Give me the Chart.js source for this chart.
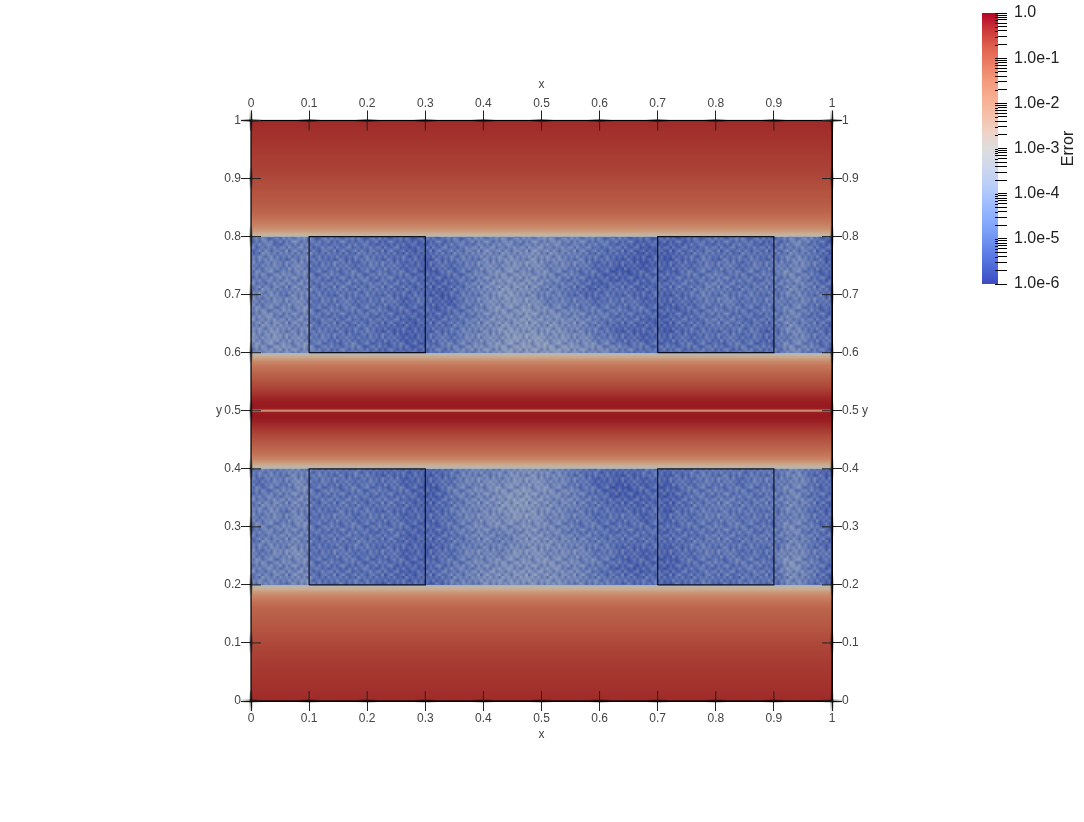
<!DOCTYPE html>
<html>
<head>
<meta charset="utf-8">
<title>Error</title>
<script src="https://cdn.jsdelivr.net/npm/chart.js@4"></script>
<style>
html, body { margin: 0; padding: 0; background: #fff; }
canvas { position: absolute; }
#field { left: 0; top: 0; }
#bar { left: 982px; top: 0; }
</style>
</head>
<body>
<canvas id="field" width="1084" height="822"></canvas>
<canvas id="bar" width="102" height="300"></canvas>
<script>
// axis ticks of the square
var axisMin = 0;
var axisMax = 1;
var axisStep = 0.1;

// the four boxes drawn on the field
var boxXRanges = [[0.1, 0.3], [0.7, 0.9], [0.1, 0.3], [0.7, 0.9]];
var boxYRanges = [[0.6, 0.8], [0.6, 0.8], [0.2, 0.4], [0.2, 0.4]];

// log10(error) read down the picture, the red bands only
var profileY = [1, 0.97, 0.94, 0.91, 0.88, 0.86, 0.84, 0.83, 0.82, 0.815, 0.81, 0.805, 0.802, 0.8,
	0.6, 0.597, 0.592, 0.585, 0.578, 0.565, 0.555, 0.545, 0.535, 0.525, 0.517, 0.508, 0.503, 0.5015, 0.5, 0.4985, 0.497, 0.492, 0.483, 0.475, 0.465, 0.455, 0.445, 0.435, 0.422, 0.415, 0.408, 0.403, 0.4,
	0.2, 0.197, 0.192, 0.187, 0.18, 0.17, 0.16, 0.14, 0.12, 0.09, 0.06, 0.03, 0];
var profileLog = [-0.27, -0.36, -0.48, -0.6, -0.78, -0.9, -1.14, -1.32, -1.56, -1.74, -1.98, -2.4, -2.76, -3.18,
	-3.2, -2.85, -2.2, -1.7, -1.4, -1.1, -0.9, -0.7, -0.5, -0.28, -0.1, -0.03, -0.1, -1.2, -2.0, -1.2, -0.1, -0.03, -0.1, -0.28, -0.5, -0.7, -0.9, -1.1, -1.4, -1.7, -2.2, -2.85, -3.2,
	-3.2, -2.8, -2.3, -1.95, -1.6, -1.3, -1.1, -0.95, -0.8, -0.6, -0.46, -0.36, -0.27];

// error level 0 (dark) to 9 (light) per cell, 58 columns, top row first
var upperZone = [
	"453465 343433323222 33445556556665554433222 222333343323 46532",
	"364546 343344333222 34455666667665544332212 123343334333 55432",
	"555456 334334433321 33445667677665543322112 123343443434 56541",
	"465565 344343443321 23345667766655433211122 223444434444 66432",
	"546656 343444343332 22345677777654432222223 234345444344 56532",
	"565466 434434433322 12345678776554322333223 233454434443 66443",
	"656566 343443343233 11345678776554433333322 223444544344 55543",
	"565657 344434432322 22345677787665544443332 222344434343 56432",
	"676566 343343333222 23445677787776655433322 133344443334 65433",
	"667657 344334322212 33456678787776654322222 123334343423 66442",
	"777666 443343332212 34456678888877665432222 223333343323 56533",
	"667767 443443323222 44566778888888776654433 333343334333 66543"
];
var lowerZone = [
	"454565 444343323222 23456566777665433222233 233444443444 56432",
	"345466 343344333221 23556677777765432211222 133444434443 66532",
	"445566 344343433321 13556677887766543211122 123444444344 56433",
	"566566 343443343321 23456678887766544322223 123444544444 66532",
	"556465 334434333222 23556677887765543333223 133445444343 65432",
	"565566 344343433322 23456677777665444333323 233444444433 66532",
	"455656 343443334222 23456656677665444333333 233344444344 66443",
	"465565 334344333222 23445655677766554433333 233444434443 56532",
	"546676 334343333221 23456566777766654432222 223444443334 76543",
	"565666 343433333222 33456667777776655432222 123344344434 77543",
	"556566 343334332222 34556677777776654322123 123343434433 77542",
	"565567 334343323223 24556777787776655443333 233343334343 66532"
];
// hand typed speckle laid over the zones, not a measurement: the grain is too fine to read cell by cell
var speckle = [
	"3728150946271836",
	"8162739405817263",
	"2950618372946150",
	"6381924057183729",
	"1749360825294618",
	"9273815064738152",
	"4058297136920473",
	"7316482950168294",
	"2894061573824906",
	"5160739248615037",
	"8427913605392781",
	"0693258174067429"
];

// colour bar
var barRange = [0.000001, 1];
var barTicks = [1, 0.1, 0.01, 0.001, 0.0001, 0.00001, 0.000001];
var barLabels = ["1.0", "1.0e-1", "1.0e-2", "1.0e-3", "1.0e-4", "1.0e-5", "1.0e-6"];
var barTitle = "Error";

// colours: position on the log range, then rgb
var barStops = [[0, 59, 76, 192], [0.0625, 77, 104, 215], [0.125, 98, 131, 234], [0.1875, 119, 157, 247], [0.25, 141, 176, 254], [0.3125, 165, 193, 254], [0.375, 190, 208, 247], [0.4375, 208, 216, 234], [0.5, 221, 221, 221], [0.5625, 238, 210, 198], [0.625, 245, 192, 168], [0.6875, 247, 174, 145], [0.75, 244, 154, 123], [0.8125, 235, 126, 100], [0.875, 222, 96, 77], [0.9375, 203, 56, 57], [1, 180, 4, 38]];
var fieldStops = [[0, 50, 68, 155], [0.1, 65, 88, 170], [0.2, 88, 112, 180], [0.3, 112, 134, 186], [0.42, 142, 160, 190], [0.5, 185, 185, 180], [0.62, 205, 170, 140], [0.75, 200, 125, 95], [0.875, 178, 80, 62], [1, 150, 22, 30]];

var textColor = "#444444";
var fontName = "'Liberation Sans', Arial, sans-serif";

var rampColor = function(stops, t){
	t = Math.max(0, Math.min(1, t));
	for(var i = 1; i < stops.length; i++){
		if(t <= stops[i][0]){
			var a = stops[i-1], b = stops[i];
			var k = (t-a[0])/(b[0]-a[0]);
			return "rgb(" + Math.round(a[1]+(b[1]-a[1])*k) + "," + Math.round(a[2]+(b[2]-a[2])*k) + "," + Math.round(a[3]+(b[3]-a[3])*k) + ")";
		}
	}
	return "rgb(" + stops[stops.length-1].slice(1).join(",") + ")";
}
var logToPos = function(v){
	return (v+6)/6;
}

var profilePoints = profileY.map(function(y, i){
	return {x: 0.5, y: y, v: profileLog[i]};
});
var zoneCells = function(rows, yTop, yBottom){
	var cells = [];
	rows.forEach(function(row, r){
		row.replace(/ /g, "").split("").forEach(function(level, c){
			cells.push({x: c, y: yTop-(yTop-yBottom)*(r+0.5)/rows.length, r: r, c: c, v: -5.6+0.24*Number(level)});
		});
	});
	return cells;
}

var boxDatasets = boxXRanges.map(function(xr, i){
	var yr = boxYRanges[i];
	return {
		label: "box",
		showLine: true,
		borderColor: "rgba(8,8,20,0.92)",
		borderWidth: 1.2,
		pointRadius: 0,
		data: [{x: xr[0], y: yr[0]}, {x: xr[1], y: yr[0]}, {x: xr[1], y: yr[1]}, {x: xr[0], y: yr[1]}, {x: xr[0], y: yr[0]}]
	};
});

var speckleTile = function(){
	var cell = 3;
	var rows = speckle.length, cols = speckle[0].length;
	var small = document.createElement("canvas");
	small.width = cols;
	small.height = rows;
	var sc = small.getContext("2d");
	for(var r = 0; r < rows; r++){
		for(var c = 0; c < cols; c++){
			var d = Number(speckle[r][c])-4.5;
			sc.fillStyle = d < 0 ? "rgba(30,45,130," + (-d*0.075) + ")" : "rgba(185,190,190," + (d*0.075) + ")";
			sc.fillRect(c, r, 1, 1);
		}
	}
	var tile = document.createElement("canvas");
	tile.width = cols*cell;
	tile.height = rows*cell;
	var tc = tile.getContext("2d");
	tc.imageSmoothingEnabled = true;
	tc.drawImage(small, 0, 0, tile.width, tile.height);
	return tile;
}

// paints the red bands and the mottled zones from the first three datasets
var fieldPlugin = {
	id: "fieldPlugin",
	beforeDatasetsDraw: function(chart){
		var ctx = chart.ctx, xs = chart.scales.x, ys = chart.scales.y;
		var top = ys.getPixelForValue(axisMax), bottom = ys.getPixelForValue(axisMin);
		var left = xs.getPixelForValue(axisMin), right = xs.getPixelForValue(axisMax);
		var grad = ctx.createLinearGradient(0, top, 0, bottom);
		chart.data.datasets[0].data.forEach(function(p){
			grad.addColorStop((ys.getPixelForValue(p.y)-top)/(bottom-top), rampColor(fieldStops, logToPos(p.v)));
		});
		ctx.save();
		ctx.fillStyle = grad;
		ctx.fillRect(left, top, right-left, bottom-top);
		var tile = ctx.createPattern(speckleTile(), "repeat");
		[chart.data.datasets[1], chart.data.datasets[2]].forEach(function(ds){
			var cols = 0, rows = 0;
			ds.data.forEach(function(p){
				cols = Math.max(cols, p.c+1);
				rows = Math.max(rows, p.r+1);
			});
			var off = document.createElement("canvas");
			off.width = cols;
			off.height = rows;
			var oc = off.getContext("2d");
			ds.data.forEach(function(p){
				oc.fillStyle = rampColor(fieldStops, logToPos(p.v));
				oc.fillRect(p.c, p.r, 1, 1);
			});
			ctx.imageSmoothingEnabled = true;
			ctx.imageSmoothingQuality = "high";
			var zoneTop = ys.getPixelForValue(ds.yTop), zoneBottom = ys.getPixelForValue(ds.yBottom);
			ctx.drawImage(off, left, zoneTop, right-left, zoneBottom-zoneTop);
			ctx.fillStyle = tile;
			ctx.fillRect(left, zoneTop, right-left, zoneBottom-zoneTop);
		});
		ctx.restore();
	},
	afterDraw: function(chart){
		var ctx = chart.ctx, xs = chart.scales.x, ys = chart.scales.y;
		var top = ys.getPixelForValue(axisMax), bottom = ys.getPixelForValue(axisMin);
		var left = xs.getPixelForValue(axisMin), right = xs.getPixelForValue(axisMax);
		var glow = function(x1, y1, x2, y2){
			var g = ctx.createLinearGradient(x1, y1, x2, y2);
			g.addColorStop(0, "rgba(0,0,0,0)");
			g.addColorStop(0.5, "rgba(0,0,0,0.5)");
			g.addColorStop(1, "rgba(0,0,0,0)");
			ctx.strokeStyle = g;
			ctx.lineWidth = 3;
			ctx.beginPath();
			ctx.moveTo(x1, y1);
			ctx.lineTo(x2, y2);
			ctx.stroke();
		};
		var mark = function(x1, y1, x2, y2){
			ctx.strokeStyle = "#222";
			ctx.lineWidth = 1;
			ctx.beginPath();
			ctx.moveTo(x1, y1);
			ctx.lineTo(x2, y2);
			ctx.stroke();
		};
		ctx.save();
		ctx.strokeStyle = "#000";
		ctx.lineWidth = 1.2;
		ctx.strokeRect(left, top, right-left, bottom-top);
		xs.ticks.forEach(function(t){
			var px = xs.getPixelForValue(t.value);
			[top, bottom].forEach(function(edge){
				glow(px-12, edge, px+12, edge);
			});
			mark(px, top, px, top+10);
			mark(px, bottom, px, bottom-10);
		});
		ys.ticks.forEach(function(t){
			var py = ys.getPixelForValue(t.value);
			[left, right].forEach(function(edge){
				glow(edge, py-12, edge, py+12);
			});
			mark(left, py, left+10, py);
			mark(right, py, right-10, py);
		});
		// y stays upright here, the library would turn it
		ctx.fillStyle = textColor;
		ctx.font = "12px " + fontName;
		ctx.textAlign = "center";
		ctx.textBaseline = "middle";
		var mid = ys.getPixelForValue(0.5);
		ctx.fillText("y", 219, mid);
		ctx.fillText("y", 865, mid);
		ctx.restore();
	}
}

var sideScale = function(position, axis, boxSize, tickPadding, showTitle){
	return {
		type: "linear",
		position: position,
		axis: axis,
		min: axisMin,
		max: axisMax,
		z: 1,
		border: {color: "#000", width: 1},
		grid: {drawOnChartArea: false, tickLength: 10, tickColor: "#222", tickWidth: 1},
		title: {display: showTitle, text: "x", color: textColor, padding: 0, font: {family: fontName, size: 12}},
		ticks: {
			stepSize: axisStep,
			autoSkip: false,
			maxRotation: 0,
			padding: tickPadding,
			color: textColor,
			font: {family: fontName, size: 12},
			callback: function(v){
				return String(Math.round(v*10)/10);
			}
		},
		afterFit: function(scale){
			if(axis == "x"){
				scale.height = boxSize;
			}else{
				scale.width = boxSize;
			}
		}
	};
}

var upperData = {label: "upper", data: zoneCells(upperZone, 0.8, 0.6), pointRadius: 0, yTop: 0.8, yBottom: 0.6};
var lowerData = {label: "lower", data: zoneCells(lowerZone, 0.4, 0.2), pointRadius: 0, yTop: 0.4, yBottom: 0.2};

new Chart(document.getElementById("field").getContext("2d"), {
	type: "scatter",
	data: {
		datasets: [{label: "Error", data: profilePoints, pointRadius: 0}, upperData, lowerData].concat(boxDatasets)
	},
	options: {
		responsive: false,
		animation: false,
		layout: {padding: {left: 212, right: 212, top: 77, bottom: 80}},
		plugins: {legend: {display: false}, tooltip: {enabled: false}},
		scales: {
			x: sideScale("bottom", "x", 41, 0, true),
			xTop: sideScale("top", "x", 43.5, 0, true),
			y: sideScale("left", "y", 39, 0, false),
			yRight: sideScale("right", "y", 40, 0, false)
		}
	},
	plugins: [fieldPlugin]
});

// colour bar, its own small chart on a log axis
var barGradient = function(context){
	var area = context.chart.chartArea;
	if(!area){
		return "#888";
	}
	var g = context.chart.ctx.createLinearGradient(0, area.bottom, 0, area.top);
	barStops.forEach(function(s){
		g.addColorStop(s[0], rampColor(barStops, s[0]));
	});
	return g;
}
var barPlugin = {
	id: "barPlugin",
	afterDraw: function(chart){
		var ctx = chart.ctx, ys = chart.scales.y;
		var right = chart.chartArea.right;
		ctx.save();
		ctx.strokeStyle = "#000";
		ctx.lineWidth = 1;
		ys.ticks.forEach(function(t){
			var py = Math.round(ys.getPixelForValue(t.value))+0.5;
			ctx.beginPath();
			ctx.moveTo(right-3, py);
			ctx.lineTo(right, py);
			ctx.stroke();
		});
		ctx.fillStyle = "#222";
		ctx.font = "16px " + fontName;
		ctx.textAlign = "center";
		ctx.textBaseline = "middle";
		ctx.translate(87, (ys.getPixelForValue(barRange[0])+ys.getPixelForValue(barRange[1]))/2);
		ctx.rotate(-Math.PI/2);
		ctx.fillText(barTitle, 0, 0);
		ctx.restore();
	}
}
new Chart(document.getElementById("bar").getContext("2d"), {
	type: "bar",
	data: {
		labels: [barTitle],
		datasets: [{label: barTitle, data: [barRange], backgroundColor: barGradient, barPercentage: 1, categoryPercentage: 1}]
	},
	options: {
		responsive: false,
		animation: false,
		layout: {padding: {left: 0, right: 0, top: 13, bottom: 16}},
		plugins: {legend: {display: false}, tooltip: {enabled: false}},
		scales: {
			x: {display: false},
			y: {
				type: "logarithmic",
				position: "right",
				min: barRange[0],
				max: barRange[1],
				z: 1,
				border: {display: false},
				grid: {drawOnChartArea: false, tickLength: 9, tickColor: "#000", tickWidth: 1},
				afterBuildTicks: function(scale){
					var list = [];
					barTicks.forEach(function(major){
						list.push({value: major});
						if(major > barRange[0]){
							[0.9, 0.8, 0.7, 0.6, 0.5, 0.4, 0.3, 0.2].forEach(function(m){
								list.push({value: major*m});
							});
						}
					});
					scale.ticks = list;
				},
				ticks: {
					autoSkip: false,
					maxRotation: 0,
					padding: 7,
					color: "#222",
					font: {family: fontName, size: 16},
					callback: function(v){
						for(var i = 0; i < barTicks.length; i++){
							if(Math.abs(Math.log10(v)-Math.log10(barTicks[i])) < 0.0001){
								return barLabels[i];
							}
						}
						return "";
					}
				},
				afterFit: function(scale){
					scale.width = 86;
					scale.paddingTop = 0;
					scale.paddingBottom = 0;
				}
			}
		}
	},
	plugins: [barPlugin]
});
</script>
</body>
</html>
